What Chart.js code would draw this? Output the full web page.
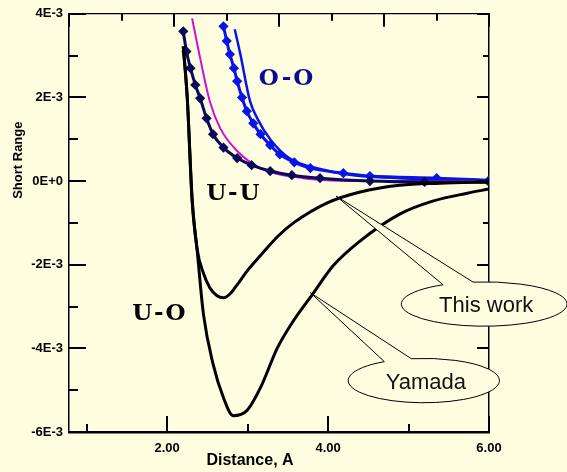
<!DOCTYPE html>
<html>
<head>
<meta charset="utf-8">
<script src="https://cdn.jsdelivr.net/npm/chart.js@4"></script>
<style>
  html, body { margin: 0; padding: 0; background: #FFFDE0; }
  canvas { display: block; }
</style>
</head>
<body>
<canvas id="grafico" width="567" height="472"></canvas>
<script>
// distance (A) and short range values (units of 1E-3)
const uoX = [2.20, 2.25, 2.31, 2.37, 2.45, 2.57, 2.70, 2.82, 2.99, 3.16, 3.37, 3.57, 3.81, 4.06, 4.40, 4.89, 5.30, 5.73, 6.00];
const uoY = [3.22, 1.98, -0.48, -1.60, -3.17, -4.37, -5.18, -5.61, -5.49, -4.94, -3.99, -3.34, -2.70, -2.03, -1.43, -0.79, -0.48, -0.29, -0.19];

const uuX = [2.20, 2.25, 2.31, 2.37, 2.45, 2.53, 2.62, 2.70, 2.78, 2.87, 2.99, 3.16, 3.37, 3.57, 3.99, 4.40, 4.89, 5.39, 6.00];
const uuY = [3.22, 1.98, -0.40, -1.60, -2.20, -2.55, -2.74, -2.79, -2.70, -2.48, -2.16, -1.78, -1.33, -1.00, -0.52, -0.26, -0.10, -0.05, -0.02];

const navyX = [2.20, 2.24, 2.29, 2.35, 2.41, 2.49, 2.57, 2.70, 2.87, 3.05, 3.28, 3.55, 3.90, 4.52, 5.20, 6.00];
const navyY = [3.58, 3.10, 2.70, 2.30, 1.98, 1.50, 1.12, 0.80, 0.55, 0.38, 0.24, 0.14, 0.07, 0.00, -0.02, -0.02];

const magX = [2.31, 2.41, 2.53, 2.66, 2.87, 3.16, 3.69, 4.52, 6.00];
const magY = [3.89, 2.94, 1.91, 1.26, 0.72, 0.31, 0.07, 0.00, 0.00];

const ooX = [2.70, 2.74, 2.78, 2.83, 2.87, 2.93, 2.99, 3.07, 3.16, 3.28, 3.40, 3.58, 3.78, 4.19, 4.52, 5.35, 6.00];
const ooY = [3.70, 3.35, 3.03, 2.70, 2.39, 2.00, 1.67, 1.38, 1.12, 0.86, 0.64, 0.45, 0.31, 0.19, 0.12, 0.07, 0.02];

const oo2X = [2.84, 2.91, 3.03, 3.12, 3.28, 3.53, 3.90, 4.31, 4.89, 6.00];
const oo2Y = [3.63, 3.03, 1.91, 1.50, 1.00, 0.53, 0.29, 0.14, 0.07, 0.02];

const xTickLabels = { 2: '2.00', 4: '4.00', 6: '6.00' };
const yTickLabels = { 4: '4E-3', 2: '2E-3', 0: '0E+0', '-2': '-2E-3', '-4': '-4E-3', '-6': '-6E-3' };

const pairLabels = [
  { text: 'O-O', x: 3.49, y: 2.43, color: '#0C0C90' },
  { text: 'U-U', x: 2.83, y: -0.31, color: '#000000' },
  { text: 'U-O', x: 1.91, y: -3.17, color: '#000000' }
];

const callouts = [
  { text: 'This work', tip: [4.10, -0.36], c: [5.94, -2.94], r: [1.03, 0.53], b1: [5.43, -2.48], b2: [5.80, -2.41] },
  { text: 'Yamada', tip: [3.78, -2.67], c: [5.19, -4.77], r: [0.94, 0.53], b1: [4.68, -4.30], b2: [5.02, -4.20] }
];

function pts(xs, ys) {
  return xs.map((x, i) => ({ x: x, y: ys[i] }));
}

function line(c, x1, y1, x2, y2) {
  c.beginPath();
  c.moveTo(x1, y1);
  c.lineTo(x2, y2);
  c.stroke();
}

const moldura = {
  id: 'moldura',
  afterDraw(chart) {
    const c = chart.ctx;
    const { x, x2, y, y2 } = chart.scales;
    const a = chart.chartArea;
    c.save();
    c.strokeStyle = '#000';
    c.lineWidth = 2;

    // ticks pointing inward
    x.ticks.forEach(t => {
      const px = Math.round(x.getPixelForValue(t.value));
      line(c, px, a.bottom, px, a.bottom - (t.value % 2 === 0 ? 16 : 8));
    });
    x2.ticks.forEach(t => {
      const px = Math.round(x2.getPixelForValue(t.value));
      line(c, px, a.top, px, a.top + (t.value % 2 === 0 ? 13 : 7));
    });
    y.ticks.forEach(t => {
      const py = Math.round(y.getPixelForValue(t.value));
      line(c, a.left, py, a.left + (Math.round(t.value) % 2 === 0 ? 17 : 9), py);
    });
    y2.ticks.forEach(t => {
      const py = Math.round(y2.getPixelForValue(t.value));
      line(c, a.right, py, a.right - (Math.round(t.value) % 2 === 0 ? 12 : 6), py);
    });

    // axis titles
    c.fillStyle = '#000';
    c.textAlign = 'center';
    c.textBaseline = 'middle';
    c.font = 'bold 16px "Liberation Sans", Arial, sans-serif';
    c.fillText('Distance, A', x.getPixelForValue(3.03), 461);
    c.save();
    c.translate(18, y.getPixelForValue(0.5));
    c.rotate(-Math.PI / 2);
    c.font = 'bold 13px "Liberation Sans", Arial, sans-serif';
    c.fillText('Short Range', 0, 0);
    c.restore();

    // pair labels
    c.font = 'bold 23px "DejaVu Serif", serif';
    c.letterSpacing = '2px';
    pairLabels.forEach(l => {
      c.fillStyle = l.color;
      c.fillText(l.text, x.getPixelForValue(l.x), y.getPixelForValue(l.y));
    });
    c.letterSpacing = '0px';

    // callouts
    c.lineWidth = 1;
    callouts.forEach(k => {
      const cx = x.getPixelForValue(k.c[0]);
      const cy = y.getPixelForValue(k.c[1]);
      const rx = x.getPixelForValue(k.c[0] + k.r[0]) - cx;
      const ry = cy - y.getPixelForValue(k.c[1] + k.r[1]);
      const ang = p => Math.atan2((y.getPixelForValue(p[1]) - cy) / ry, (x.getPixelForValue(p[0]) - cx) / rx);
      const a1 = ang(k.b1);
      const a2 = ang(k.b2);
      c.beginPath();
      c.moveTo(x.getPixelForValue(k.tip[0]), y.getPixelForValue(k.tip[1]));
      c.lineTo(cx + rx * Math.cos(a1), cy + ry * Math.sin(a1));
      c.ellipse(cx, cy, rx, ry, 0, a1, a2, true);
      c.closePath();
      c.fillStyle = '#FFFDE0';
      c.fill();
      c.strokeStyle = '#000';
      c.stroke();
      c.fillStyle = '#111';
      c.font = '22px "Liberation Sans", Arial, sans-serif';
      c.fillText(k.text, cx + 2, cy + 2);
    });
    c.restore();
  }
};

const ctx = document.getElementById('grafico').getContext('2d');

const config = {
  type: 'line',
  data: {
    datasets: [
      { label: 'U-O Yamada', data: pts(uoX, uoY), borderColor: '#000', borderWidth: 3, pointRadius: 0, order: 1 },
      { label: 'U-U This work', data: pts(uuX, uuY), borderColor: '#000', borderWidth: 3, pointRadius: 0, order: 2 },
      { label: 'navy', data: pts(navyX, navyY), borderColor: '#0A0A5A', backgroundColor: '#0A0A5A', borderWidth: 3,
        pointRadius: 3, pointStyle: 'rectRot', order: 3 },
      { label: 'magenta', data: pts(magX, magY), borderColor: '#D010D0', borderWidth: 2, pointRadius: 0, order: 4 },
      { label: 'O-O', data: pts(ooX, ooY), borderColor: '#0A14E6', backgroundColor: '#0A14E6', borderWidth: 3,
        pointRadius: 3, pointStyle: 'rectRot', order: 5 },
      { label: 'O-O 2', data: pts(oo2X, oo2Y), borderColor: '#0A14E6', borderWidth: 2.5, pointRadius: 0, order: 6 }
    ]
  },
  options: {
    responsive: false,
    animation: false,
    cubicInterpolationMode: 'monotone',
    layout: { padding: { left: 0, right: 78, top: 0, bottom: 0 } },
    plugins: {
      legend: { display: false },
      tooltip: { enabled: false }
    },
    scales: {
      x: {
        type: 'linear',
        position: 'bottom',
        min: 0.78,
        max: 6.0,
        grid: { display: false, drawTicks: false },
        border: { display: true, color: '#000', width: 2.5 },
        ticks: {
          stepSize: 1,
          includeBounds: false,
          autoSkip: false,
          maxRotation: 0,
          padding: 9,
          color: '#000',
          font: { family: '"Liberation Sans", Arial, sans-serif', size: 13, weight: 'bold' },
          callback: v => xTickLabels[v] || ''
        },
        afterFit: s => { s.height = 40; }
      },
      x2: {
        type: 'linear',
        position: 'top',
        min: 0,
        max: 8,
        grid: { display: false, drawTicks: false },
        border: { display: true, color: '#000', width: 1.2 },
        ticks: { stepSize: 1, display: false },
        afterFit: s => { s.height = 13; }
      },
      y: {
        type: 'linear',
        position: 'left',
        min: -6,
        max: 4,
        grid: { display: false, drawTicks: false },
        border: { display: true, color: '#000', width: 1.5 },
        ticks: {
          stepSize: 1,
          autoSkip: false,
          padding: 6,
          color: '#000',
          font: { family: '"Liberation Sans", Arial, sans-serif', size: 13, weight: 'bold' },
          callback: v => yTickLabels[v] || ''
        },
        afterFit: s => { s.width = 69; }
      },
      y2: {
        type: 'linear',
        position: 'right',
        min: -6,
        max: 4,
        grid: { display: false, drawTicks: false },
        border: { display: true, color: '#000', width: 1.5 },
        ticks: { stepSize: 1, display: false },
        afterFit: s => { s.width = 0; }
      }
    }
  },
  plugins: [moldura]
};

const grafico = new Chart(ctx, config);
</script>
</body>
</html>
